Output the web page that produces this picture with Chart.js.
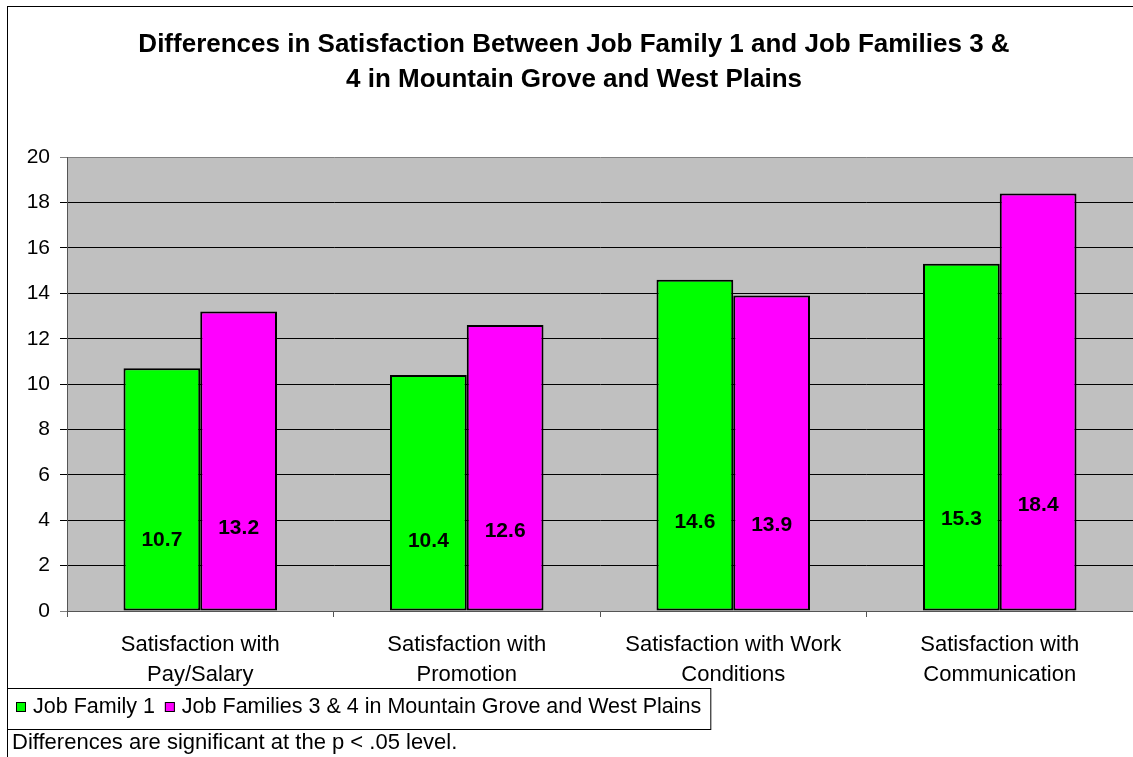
<!DOCTYPE html>
<html>
<head>
<meta charset="utf-8">
<script src="https://cdn.jsdelivr.net/npm/chart.js@4.4.1/dist/chart.umd.min.js"></script>
<style>
  html, body { margin: 0; padding: 0; background: #fff; }
  #wrap { width: 1133px; height: 757px; }
</style>
</head>
<body>
<div id="wrap"><canvas id="satChart" width="1133" height="757"></canvas></div>
<script>
let categories = [
    ['Satisfaction with', 'Pay/Salary'],
    ['Satisfaction with', 'Promotion'],
    ['Satisfaction with Work', 'Conditions'],
    ['Satisfaction with', 'Communication']
];
let jobFamily1 = [10.7, 10.4, 14.6, 15.3];
let jobFamilies34 = [13.2, 12.6, 13.9, 18.4];
let seriesNames = ['Job Family 1', 'Job Families 3 & 4 in Mountain Grove and West Plains'];
let titleLines = [
    'Differences in Satisfaction Between Job Family 1 and Job Families 3 &',
    '4 in Mountain Grove and West Plains'
];
let footnote = 'Differences are significant at the p < .05 level.';

const FONT = 'Arial, "Liberation Sans", sans-serif';

// grey plot area plus the outer chart frame
let backdrop = {
    id : 'backdrop',
    beforeDraw(chart) {
        let ctx = chart.ctx, a = chart.chartArea;
        ctx.save();
        ctx.fillStyle = '#c0c0c0';
        ctx.fillRect(a.left, a.top, a.right - a.left, a.bottom - a.top);
        ctx.strokeStyle = '#000';
        ctx.lineWidth = 1;
        ctx.strokeRect(7.5, 6.5, chart.width + 20, chart.height + 20);
        ctx.restore();
    }
};

// value labels sitting low inside each bar
let barLabels = {
    id : 'barLabels',
    afterDatasetsDraw(chart) {
        let ctx = chart.ctx, y = chart.scales.y;
        ctx.save();
        ctx.font = 'bold 21px ' + FONT;
        ctx.fillStyle = '#000';
        ctx.textAlign = 'center';
        ctx.textBaseline = 'middle';
        chart.data.datasets.forEach((ds, i) => {
            chart.getDatasetMeta(i).data.forEach((bar, j) => {
                let v = ds.data[j];
                ctx.fillText(v.toFixed(1), bar.x, y.getPixelForValue(v * 0.2 + 1));
            });
        });
        ctx.restore();
    }
};

// boxed legend and the footnote under it
let legendBox = {
    id : 'legendBox',
    afterDraw(chart) {
        let ctx = chart.ctx;
        ctx.save();
        ctx.font = '21.5px ' + FONT;
        ctx.textBaseline = 'middle';
        let x = 16, cy = 707;
        chart.data.datasets.forEach((ds, i) => {
            ctx.fillStyle = ds.backgroundColor;
            ctx.fillRect(x, cy - 5, 10, 10);
            ctx.strokeStyle = '#000';
            ctx.lineWidth = 1;
            ctx.strokeRect(x + 0.5, cy - 4.5, 9, 9);
            x += 17;
            ctx.fillStyle = '#000';
            ctx.fillText(ds.label, x, cy);
            x += ctx.measureText(ds.label).width + 10;
        });
        ctx.strokeStyle = '#000';
        ctx.strokeRect(7.5, 688.5, x - 8, 41);
        ctx.font = '22px ' + FONT;
        ctx.fillStyle = '#000';
        ctx.fillText(footnote, 12, 743);
        ctx.restore();
    }
};

let config = {
    type : 'bar',
    data : {
        labels : categories,
        datasets : [{
            label : seriesNames[0],
            data : jobFamily1,
            backgroundColor : '#00ff00',
            borderColor : '#000',
            borderWidth : 2,
            borderSkipped : false
        }, {
            label : seriesNames[1],
            data : jobFamilies34,
            backgroundColor : '#ff00ff',
            borderColor : '#000',
            borderWidth : 2,
            borderSkipped : false
        }]
    },
    options : {
        responsive : false,
        animation : false,
        layout : {padding : {left : 15, right : 0, top : 0, bottom : 0}},
        categoryPercentage : 0.576,
        barPercentage : 1.0,
        plugins : {
            legend : {display : false},
            tooltip : {enabled : false},
            title : {
                display : true,
                text : titleLines,
                color : '#000',
                font : {family : FONT, size : 26, weight : 'bold', lineHeight : 1.35},
                padding : {top : 27, bottom : 60}
            }
        },
        scales : {
            x : {
                grid : {drawOnChartArea : false, color : '#555', tickLength : 6},
                border : {color : '#555'},
                ticks : {color : '#000', padding : 13, maxRotation : 0, font : {family : FONT, size : 22, lineHeight : 1.36}},
                afterFit(scale) { scale.height = 146; }
            },
            y : {
                min : 0,
                max : 20,
                ticks : {stepSize : 2, color : '#000', padding : 10, font : {family : FONT, size : 21}},
                grid : {
                    color : c => (c.tick && (c.tick.value === 0 || c.tick.value === 20)) ? '#808080' : '#000',
                    tickLength : 7
                },
                border : {color : '#555'},
                afterFit(scale) { scale.width = 52; }
            }
        }
    },
    plugins : [backdrop, barLabels, legendBox]
};

let chart = new Chart(document.getElementById('satChart').getContext('2d'), config);
</script>
</body>
</html>
